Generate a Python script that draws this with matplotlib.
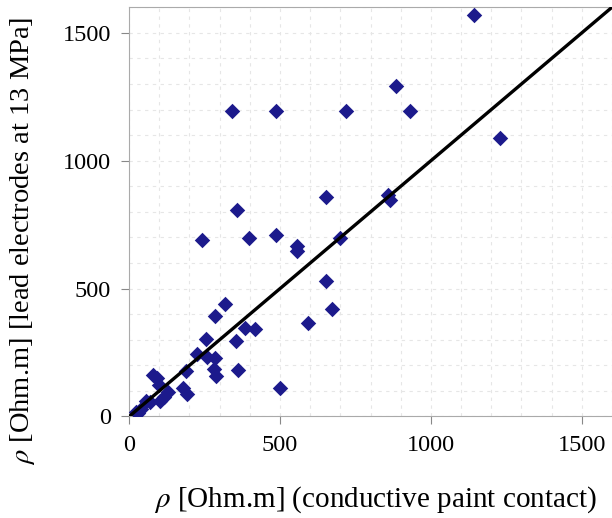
import matplotlib
matplotlib.use('Agg')
import matplotlib.pyplot as plt
from matplotlib.ticker import MultipleLocator

plt.rcParams['font.family'] = ['Liberation Serif', 'DejaVu Serif']
plt.rcParams['mathtext.fontset'] = 'stix'

# resistividade: pintura condutora (x) vs eletrodos de chumbo a 13 MPa (y)
rho_paint = [1143, 885, 342, 486, 720, 932, 1230, 653, 859, 865,
             357, 241, 396, 486, 555, 555, 700, 652, 673, 592,
             318, 285, 384, 418, 256, 355, 224, 257, 285, 280,
             287, 362, 501, 189, 178, 191, 80, 92, 100, 128,
             114, 102, 68, 55, 38, 22, 30]
rho_lead = [1569, 1292, 1195, 1195, 1195, 1195, 1090, 859, 864, 845,
            806, 690, 696, 711, 668, 648, 696, 530, 420, 366,
            438, 394, 345, 342, 302, 294, 246, 233, 229, 186,
            158, 180, 112, 178, 110, 87, 163, 152, 125, 95,
            76, 60, 55, 62, 30, 16, 12]

# reta 1:1
linha = [0, 1600]

fig = plt.figure(figsize=(6.12, 5.18), dpi=100)
ax = fig.add_axes([0.211, 0.196, 0.789, 0.79])

ax.xaxis.set_minor_locator(MultipleLocator(100))
ax.yaxis.set_minor_locator(MultipleLocator(100))
ax.grid(True, which='both', color='#e6e6e6', linestyle=(0, (3, 4)), linewidth=0.8)
ax.set_axisbelow(True)

ax.scatter(rho_paint, rho_lead, marker='D', s=62, color='#1c1a8c', zorder=3, linewidths=0)
ax.plot(linha, linha, color='black', linewidth=2.4, zorder=4)

ax.set_xlim(0, 1600)
ax.set_ylim(0, 1600)
ax.set_xticks([0, 500, 1000, 1500])
ax.set_yticks([0, 500, 1000, 1500])
ax.tick_params(which='minor', length=0)
ax.tick_params(which='major', length=6, color='#888888', labelsize=17.5, pad=7)

for s in ax.spines.values():
    s.set_color('#aaaaaa')
ax.spines['right'].set_visible(False)

ax.set_xlabel(r'$\rho$ [Ohm.m] (conductive paint contact)', fontsize=21)
ax.set_ylabel(r'$\rho$ [Ohm.m] [lead electrodes at 13 MPa]', fontsize=20.5)
ax.xaxis.set_label_coords(0.51, -0.165)
ax.yaxis.set_label_coords(-0.19, 0.43)

plt.savefig('out.png', dpi=100)
